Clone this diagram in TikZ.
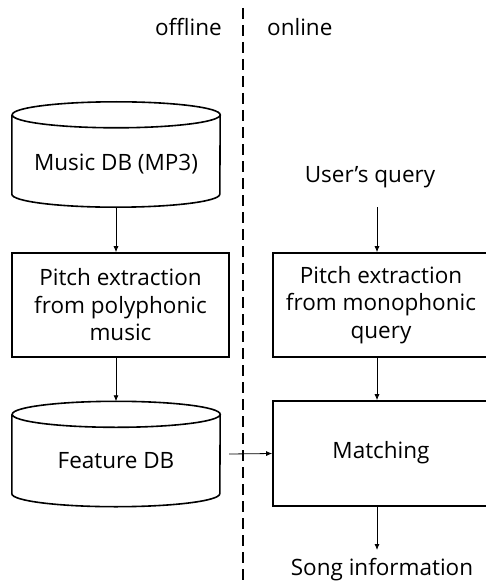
\documentclass[tikz,border=0pt]{standalone}
\usepackage{fontspec}
\setmainfont{Open Sans}
\usetikzlibrary{arrows.meta}
\begin{document}
\begin{tikzpicture}[x=1pt,y=-1pt,
  every node/.style={font=\fontsize{22.5}{27.5}\selectfont, align=center, inner sep=0pt},
  procbox/.style={draw, line width=1.6pt, rectangle},
  dbspot/.style={rectangle, minimum width=208pt, minimum height=105pt},
  dbline/.style={line width=1.6pt},
  flow/.style={-{Latex[length=6pt,width=5pt]}, line width=0.8pt},
  divider/.style={line width=2.4pt, dash pattern=on 11pt off 6pt}]
\useasboundingbox (0,0) rectangle (486,583);

% offline / online divider
\coordinate (dtop) at (243,8);
\coordinate (dbot) at (243,583);
\draw[divider] (dtop) -- (dbot);
\node[anchor=east] (offl) at (222,27) {offline};
\node[anchor=west] (onl) at (267,27) {online};

% database cylinders (outline drawn from the node anchors)
\node[dbspot] (mdb) at (116,154.5) {};
\node (mdbt) at (116,164) {Music DB (MP3)};
\node[dbspot] (fdb) at (116,454) {};
\node (fdbt) at (116,461) {Feature DB};
\foreach \c in {mdb,fdb}{
  \draw[dbline] ([yshift=-13pt]\c.north west) -- ([yshift=13pt]\c.south west)
    arc[start angle=180, end angle=360, x radius=104pt, y radius=13pt]
    -- ([yshift=-13pt]\c.north east)
    arc[start angle=0, end angle=360, x radius=104pt, y radius=13pt];
}

% processing boxes
\node[procbox, minimum width=217pt, minimum height=104pt] (poly) at (120.5,305)
  {Pitch extraction\\from polyphonic\\music};
\node[procbox, minimum width=216pt, minimum height=104pt] (mono) at (381,305)
  {Pitch extraction\\from monophonic\\query};
\node[procbox, minimum width=216pt, minimum height=105pt] (match) at (381,453.5) {};
\node (matcht) at (381,453) {Matching};

% query input and result
\node (query) at (370,177) {User's query};
\node (song) at (382,570) {Song information};
\coordinate (qout) at (377,207);
\coordinate (sin) at (377,550);

% data flow
\draw[flow] (mdb.south) -- (mdb.south |- poly.north);
\draw[flow] (fdb.north |- poly.south) -- (fdb.north);
\draw[flow] (qout) -- (qout |- mono.north);
\draw[flow] (qout |- mono.south) -- (qout |- match.north);
\draw[flow] ([xshift=9pt]fdb.east) -- (match.west);
\draw[flow] (sin |- match.south) -- (sin);
\end{tikzpicture}
\end{document}
